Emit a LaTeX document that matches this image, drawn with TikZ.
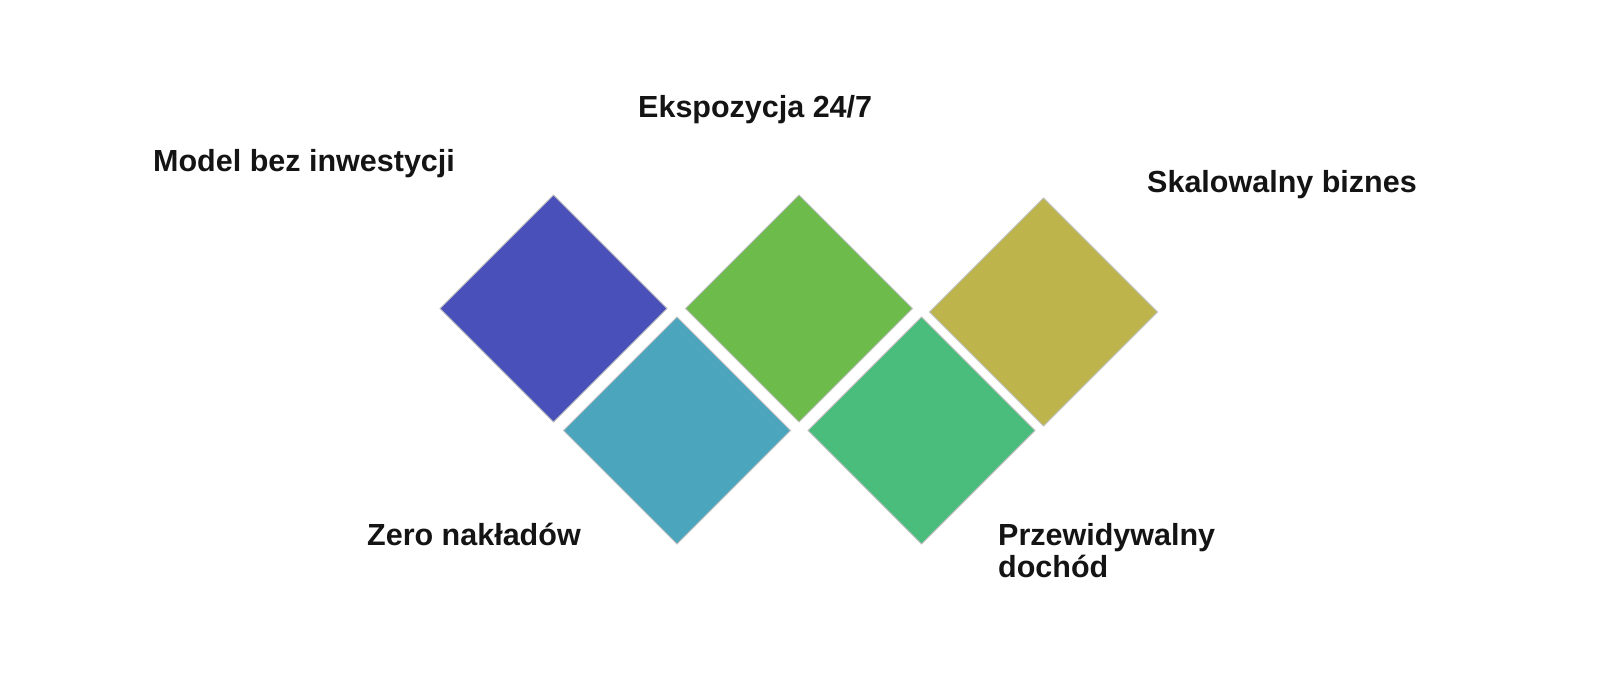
\documentclass[tikz,border=0pt]{standalone}
\usepackage{fontspec}
\setmainfont{Liberation Sans}
\begin{document}
\begin{tikzpicture}[x=1pt,y=-1pt,
  tile/.style={draw=black!25!white, line width=0.9pt, line join=miter},
  lbl/.style={inner sep=0pt, anchor=base west, font=\fontsize{30.5}{32}\selectfont\bfseries, text=black!92!white}]
\definecolor{cPurple}{HTML}{4A50B9}
\definecolor{cTeal}{HTML}{4AA5BD}
\definecolor{cGreen}{HTML}{6DBB4B}
\definecolor{cGreenB}{HTML}{4ABC7B}
\definecolor{cOlive}{HTML}{BDB54C}
\useasboundingbox[fill=white] (0,0) rectangle (1600,678);
% tiles
\newcommand{\tiledraw}[4]{%
  \fill[#1] (#2,#3-#4) -- (#2+#4,#3) -- (#2,#3+#4) -- (#2-#4,#3) -- cycle;
  \draw[tile] (#2,#3-#4) -- (#2+#4,#3) -- (#2,#3+#4) -- (#2-#4,#3) -- cycle;}
\tiledraw{cPurple}{553.5}{308.5}{113.5}
\tiledraw{cGreen}{799}{308.5}{113.5}
\tiledraw{cOlive}{1043.5}{312}{114}
\tiledraw{cTeal}{677}{430.5}{113.5}
\tiledraw{cGreenB}{921.5}{430.5}{113.5}
% labels
\node[lbl] (l1) at (153,171) {Model bez inwestycji};
\node[lbl] (l2) at (638,117) {Ekspozycja 24/7};
\node[lbl] (l3) at (1147,192) {Skalowalny biznes};
\node[lbl] (l4) at (367,545) {Zero nakładów};
\node[lbl, align=left] (l5) at (998,577) {Przewidywalny\\dochód};
\end{tikzpicture}
\end{document}
